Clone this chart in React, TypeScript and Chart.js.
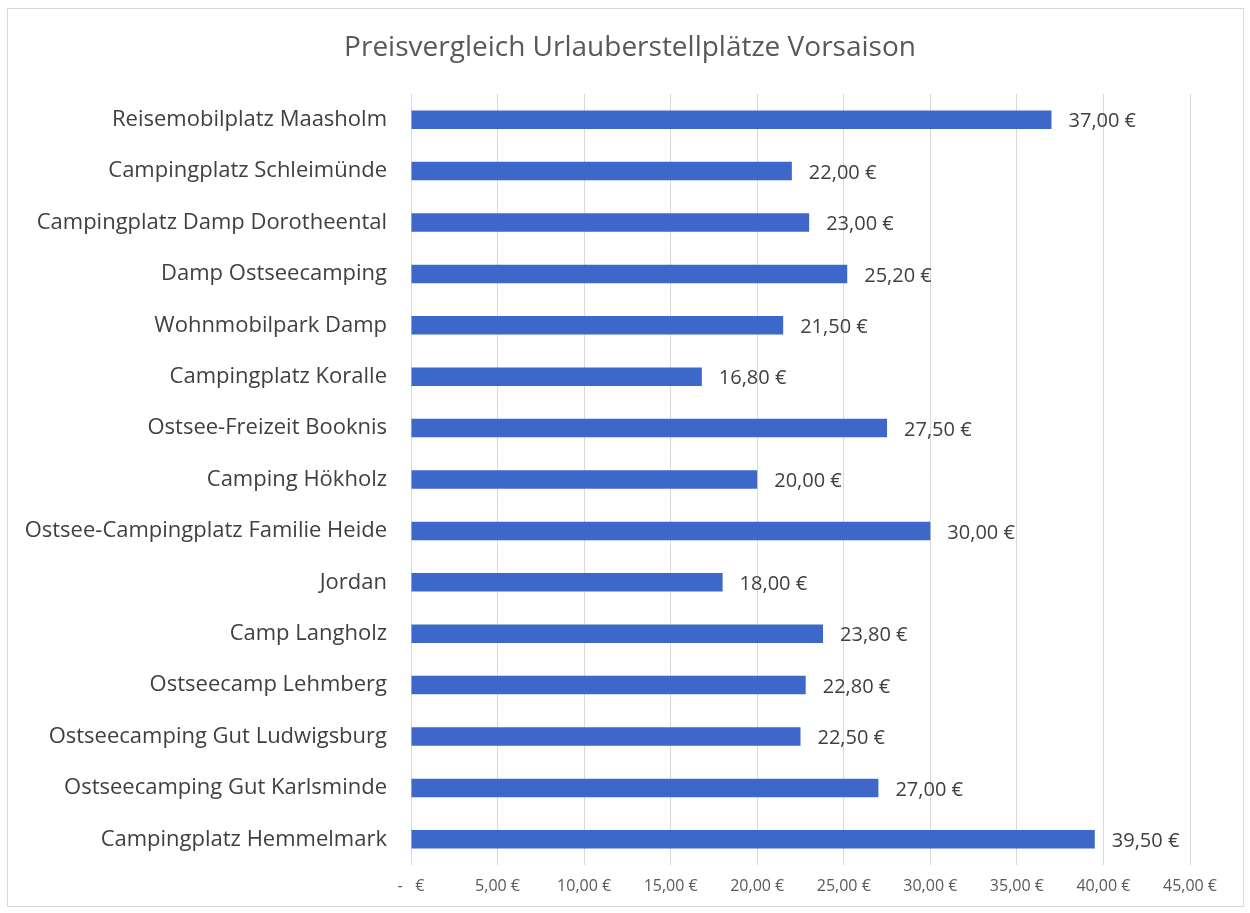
import React, { useEffect, useRef } from "react";
import { Chart, registerables } from "chart.js";

Chart.register(...registerables);

const TITLE = "Preisvergleich Urlauberstellplätze Vorsaison";
const categories = [
  "Reisemobilplatz Maasholm",
  "Campingplatz Schleimünde",
  "Campingplatz Damp Dorotheental",
  "Damp Ostseecamping",
  "Wohnmobilpark Damp",
  "Campingplatz Koralle",
  "Ostsee-Freizeit Booknis",
  "Camping Hökholz",
  "Ostsee-Campingplatz Familie Heide",
  "Jordan",
  "Camp Langholz",
  "Ostseecamp Lehmberg",
  "Ostseecamping Gut Ludwigsburg",
  "Ostseecamping Gut Karlsminde",
  "Campingplatz Hemmelmark",
];
const prices = [37, 22, 23, 25.2, 21.5, 16.8, 27.5, 20, 30, 18, 23.8, 22.8, 22.5, 27, 39.5];
const xMin = 0;
const xMax = 45;
const xStep = 5;

const FONT = "'Open Sans', Lato, sans-serif";

const fmtEuro = (v: number) => (v === 0 ? "-   €" : v.toFixed(2).replace(".", ",") + " €");

const framePlugin = {
  id: "frame",
  beforeDraw(chart: any) {
    const { ctx } = chart;
    ctx.save();
    ctx.fillStyle = "#ffffff";
    ctx.fillRect(0, 0, chart.width, chart.height);
    ctx.strokeStyle = "#d9d9d9";
    ctx.lineWidth = 1;
    ctx.strokeRect(7.5, 8.5, 1236, 898);
    ctx.font = `28px ${FONT}`;
    ctx.fillStyle = "#595959";
    ctx.textAlign = "center";
    ctx.textBaseline = "middle";
    ctx.fillText(TITLE, 630, 48);
    ctx.restore();
  },
};

const labelPlugin = {
  id: "valueLabels",
  afterDatasetsDraw(chart: any) {
    const { ctx } = chart;
    const meta = chart.getDatasetMeta(0);
    ctx.save();
    ctx.font = `20px ${FONT}`;
    ctx.fillStyle = "#404040";
    ctx.textAlign = "left";
    ctx.textBaseline = "middle";
    meta.data.forEach((el: any, i: number) => {
      const v = chart.data.datasets[0].data[i];
      ctx.fillText(fmtEuro(v), el.x + 17, el.y + 2);
    });
    ctx.restore();
  },
};

export default function App() {
  const ref = useRef<HTMLCanvasElement>(null);
  useEffect(() => {
    if (!ref.current) return;
    const chart = new Chart(ref.current, {
      type: "bar",
      data: {
        labels: categories,
        datasets: [
          {
            data: prices,
            backgroundColor: "#3d67c8",
            barPercentage: 0.36,
            categoryPercentage: 1,
          },
        ],
      },
      options: {
        indexAxis: "y",
        animation: false,
        responsive: false,
        maintainAspectRatio: false,
        layout: { padding: { left: 0, right: 60, top: 94, bottom: 0 } },
        plugins: {
          legend: { display: false },
          tooltip: { enabled: false },
          title: { display: false },
        },
        scales: {
          x: {
            min: xMin,
            max: xMax,
            border: { display: false },
            grid: { color: "#d9d9d9", lineWidth: 1, drawTicks: false },
            ticks: {
              stepSize: xStep,
              padding: 12,
              color: "#595959",
              font: { family: FONT, size: 16 },
              callback: (v: any) => fmtEuro(Number(v)),
            },
            afterFit(scale: any) {
              scale.height = 48;
            },
          },
          y: {
            border: { display: false },
            grid: { display: false, drawTicks: false },
            ticks: {
              padding: 24,
              color: "#404040",
              font: { family: FONT, size: 22 },
              autoSkip: false,
            },
            afterFit(scale: any) {
              scale.width = 411;
            },
          },
        },
      },
      plugins: [framePlugin, labelPlugin],
    });
    return () => chart.destroy();
  }, []);
  return (
    <div style={{ position: "absolute", left: 0, top: 0, width: 1250, height: 913 }}>
      <canvas ref={ref} width={1250} height={913} style={{ display: "block" }} />
    </div>
  );
}
